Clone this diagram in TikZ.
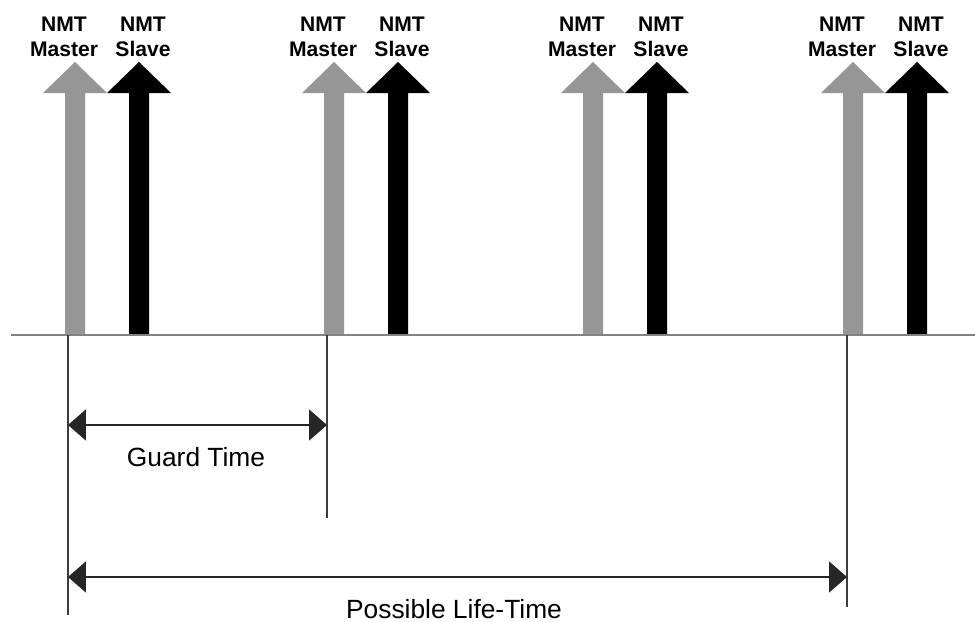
\documentclass[tikz,border=0pt]{standalone}
\usepackage{fontspec}
\setmainfont{Liberation Sans}
\usetikzlibrary{arrows.meta}

\begin{document}
\begin{tikzpicture}[x=0.02cm,y=-0.02cm]
    \definecolor{mst}{RGB}{150,150,150}
    \definecolor{slv}{RGB}{0,0,0}
    \definecolor{axis}{RGB}{130,130,130}
    \definecolor{tick}{RGB}{60,60,60}
    \tikzset{
      lbl/.style={align=center,inner sep=0,font=\fontsize{12}{14.5}\selectfont\bfseries},
      txt/.style={inner sep=0,font=\fontsize{15}{18}\selectfont},
      span/.style={draw=black!85,line width=1.1pt,
        {Triangle[length=0.36cm,width=0.62cm]}-{Triangle[length=0.36cm,width=0.62cm]}}
    }
    \useasboundingbox (0,0) rectangle (975,622);
    % master and slave messages
    \foreach \c [count=\i] in {75,334,593,853} {
      \fill[mst] (\c-10,335) -- (\c-10,93) -- (\c-32,93) -- (\c,62) -- (\c+32,93) -- (\c+10,93) -- (\c+10,335) -- cycle;
      \fill[slv] (\c+54,335) -- (\c+54,93) -- (\c+32,93) -- (\c+64,62) -- (\c+96,93) -- (\c+74,93) -- (\c+74,335) -- cycle;
      \node[lbl] (m\i) at (\c-11,37) {NMT\\Master};
      \node[lbl] (s\i) at (\c+68,37) {NMT\\Slave};
    }
    % time axis
    \coordinate (a0) at (11,335);
    \coordinate (a1) at (975,335);
    \draw[axis,line width=1.1pt] (a0) -- (a1);
    \coordinate (g0) at (68,335);
    \coordinate (g1) at (327,335);
    \coordinate (l1) at (847,335);
    \draw[tick,line width=0.85pt] (g0) -- ++(0,280);
    \draw[tick,line width=0.85pt] (g1) -- ++(0,183);
    \draw[tick,line width=0.85pt] (l1) -- ++(0,272);
    % spans
    \draw[span] (g0 |- 0,425) -- (g1 |- 0,425);
    \node[txt] (guard) at (196,457) {Guard Time};
    \draw[span] (g0 |- 0,577) -- (l1 |- 0,577);
    \node[txt] (life) at (454,609) {Possible Life-Time};
\end{tikzpicture}
\end{document}
